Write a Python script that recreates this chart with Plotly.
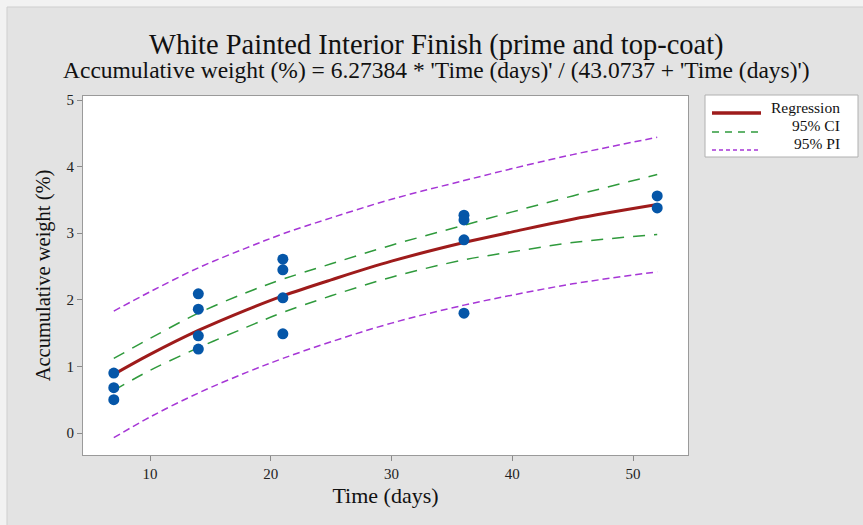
import plotly.graph_objects as go

# Observed data: time (days) and accumulative weight (%)
time_days = [7, 7, 7, 14, 14, 14, 14, 21, 21, 21, 21, 36, 36, 36, 36, 52, 52]
weight_pct = [0.90, 0.68, 0.50, 2.09, 1.86, 1.46, 1.26, 2.61, 2.45, 2.03, 1.49,
              3.27, 3.20, 2.90, 1.80, 3.56, 3.38]

# Fitted curve and 95% confidence / prediction bands
band_t = [7, 10, 14, 18, 21, 25, 30, 36, 40, 45, 52]
fit_y = [0.88, 1.18, 1.54, 1.85, 2.06, 2.30, 2.58, 2.86, 3.02, 3.21, 3.43]
ci_upper = [1.12, 1.42, 1.80, 2.11, 2.31, 2.54, 2.82, 3.12, 3.32, 3.56, 3.88]
ci_lower = [0.64, 0.94, 1.28, 1.59, 1.81, 2.06, 2.34, 2.60, 2.72, 2.86, 2.98]
pi_upper = [1.83, 2.12, 2.48, 2.78, 2.99, 3.23, 3.51, 3.79, 3.97, 4.18, 4.44]
pi_lower = [-0.07, 0.24, 0.60, 0.91, 1.12, 1.37, 1.65, 1.92, 2.07, 2.24, 2.42]

x_ticks = [10, 20, 30, 40, 50]
y_ticks = [0, 1, 2, 3, 4, 5]
legend_labels = ["Regression", "95% CI", "95% PI"]

title_text = "White Painted Interior Finish (prime and top-coat)"
subtitle_text = "Accumulative weight (%) = 6.27384 * 'Time (days)' / (43.0737 + 'Time (days)')"

W, H = 863, 525
PL, PR, PT, PB = 83, 688, 96, 455  # plot area in pixels


def px(xp):
    return (xp - PL) / (PR - PL)


def py(yp):
    return (PB - yp) / (PB - PT)


SERIF = "Liberation Serif, Times New Roman, serif"
RED = "#9e1b1b"
GREEN = "#2f9a3c"
PURPLE = "#a636d6"
BLUE = "#0556a8"
CI_DASH = "12px,9px"
PI_DASH = "7px,4px"

fig = go.Figure()

band_styles = [
    (fit_y, dict(color=RED, width=3)),
    (ci_upper, dict(color=GREEN, width=1.5, dash=CI_DASH)),
    (ci_lower, dict(color=GREEN, width=1.5, dash=CI_DASH)),
    (pi_upper, dict(color=PURPLE, width=1.5, dash=PI_DASH)),
    (pi_lower, dict(color=PURPLE, width=1.5, dash=PI_DASH)),
]
for ys, ln in band_styles:
    fig.add_trace(go.Scatter(x=band_t, y=ys, mode="lines", showlegend=False,
                             hoverinfo="skip", line=dict(shape="spline", **ln)))

fig.add_trace(go.Scatter(x=time_days, y=weight_pct, mode="markers", showlegend=False,
                         marker=dict(color=BLUE, size=11, line=dict(width=0))))

axis_common = dict(showgrid=False, zeroline=False, showline=True, mirror=True,
                   linecolor="#9a9a9a", linewidth=1, ticks="outside", ticklen=5,
                   tickcolor="#8a8a8a", tickfont=dict(family=SERIF, size=15, color="#222"))

fig.update_xaxes(range=[4.45, 54.55], tickvals=x_ticks,
                 title=dict(text="Time (days)", font=dict(family=SERIF, size=22, color="#111"),
                            standoff=6),
                 **axis_common)
fig.update_yaxes(range=[-0.33, 5.06], tickvals=y_ticks,
                 title=dict(text="Accumulative weight (%)",
                            font=dict(family=SERIF, size=20.5, color="#111"), standoff=10),
                 **axis_common)

# Legend panel: white box with line samples on the left and right-aligned labels
legend_shapes = [
    dict(type="rect", xref="paper", yref="paper",
         x0=px(705), x1=px(858), y0=py(157), y1=py(95),
         fillcolor="#ffffff", line=dict(color="#b0b0b0", width=1)),
]
sample_lines = [dict(color=RED, width=3.5),
                dict(color=GREEN, width=1.5, dash="7px,6px"),
                dict(color=PURPLE, width=1.5, dash="4px,3px")]
sample_y = [113, 132, 150]
label_y = [107, 125, 143]
legend_annotations = []
for lbl, ln, sy, ty in zip(legend_labels, sample_lines, sample_y, label_y):
    legend_shapes.append(dict(type="line", xref="paper", yref="paper",
                              x0=px(712), x1=px(761), y0=py(sy), y1=py(sy), line=ln))
    legend_annotations.append(dict(text=lbl, xref="paper", yref="paper",
                                   x=px(842), y=py(ty), xanchor="right", yanchor="middle",
                                   showarrow=False,
                                   font=dict(family=SERIF, size=15.5, color="#111")))

# Two-line heading drawn as one text block
heading = (f"<span style='font-size:28.5px'>{title_text}</span><br>"
           f"<span style='font-size:23.5px'>{subtitle_text}</span>")

fig.update_layout(
    width=W, height=H,
    margin=dict(l=PL, r=W - PR, t=PT, b=H - PB, pad=0),
    paper_bgcolor="#e3e3e3",
    plot_bgcolor="#ffffff",
    font=dict(family=SERIF, color="#111"),
    showlegend=False,
    annotations=[
        dict(text=heading, xref="paper", yref="paper", x=px(436), y=py(56),
             xanchor="center", yanchor="middle", align="center", showarrow=False,
             font=dict(family=SERIF, size=18.5, color="#111")),
    ] + legend_annotations,
    shapes=[
        # light outer strip along the top and left edges of the window
        dict(type="rect", xref="paper", yref="paper", x0=px(0), x1=px(W), y0=py(7), y1=py(0),
             fillcolor="#f2f2f2", line=dict(width=0), layer="below"),
        dict(type="rect", xref="paper", yref="paper", x0=px(0), x1=px(7), y0=py(H), y1=py(0),
             fillcolor="#f2f2f2", line=dict(width=0), layer="below"),
        dict(type="line", xref="paper", yref="paper", x0=px(7), x1=px(W), y0=py(7), y1=py(7),
             line=dict(color="#cfcfcf", width=1)),
        dict(type="line", xref="paper", yref="paper", x0=px(7), x1=px(7), y0=py(7), y1=py(H),
             line=dict(color="#cfcfcf", width=1)),
    ] + legend_shapes,
)

fig.write_html("out.html")
